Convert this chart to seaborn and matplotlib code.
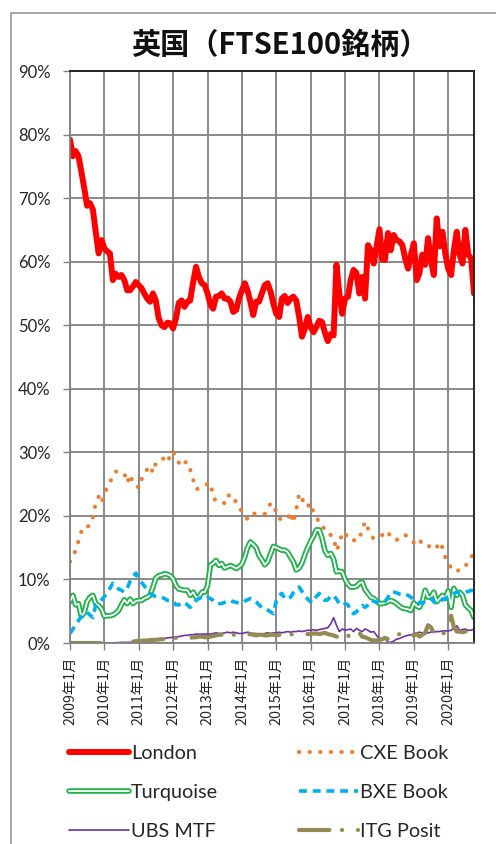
import numpy as np
import pandas as pd
import matplotlib
matplotlib.use("Agg")
import matplotlib.pyplot as plt
import seaborn as sns
from matplotlib.lines import Line2D
import matplotlib.patheffects as pe
from matplotlib.patches import Rectangle

# ---------------- data (monthly, Jan 2009 - Oct 2020, % share) ----------------
START = "2009-01-01"
TITLE = "英国（FTSE100銘柄）"
SERIES_NAMES = ["London", "CXE Book", "Turquoise", "BXE Book", "UBS MTF", "ITG Posit"]

LONDON = [
    79.2, 76.6, 77.4, 76.6, 74.2, 71.6, 68.8, 69.2, 68.2, 64.7, 61.3, 63.4,
    62.1, 61.6, 61.3, 57.1, 58.1, 57.6, 57.9, 57.1, 55.5, 55.5, 56.1, 56.8,
    56.3, 55.8, 55.0, 54.2, 53.7, 55.0, 53.9, 51.1, 50.0, 49.7, 50.4, 50.3,
    49.5, 51.1, 53.5, 53.9, 52.9, 53.7, 53.9, 56.8, 59.2, 57.6, 56.6, 56.3,
    55.0, 53.2, 52.6, 54.5, 54.6, 55.0, 54.2, 54.2, 53.7, 52.1, 52.4, 54.2,
    55.5, 56.6, 55.5, 53.7, 51.6, 53.7, 53.7, 55.0, 56.3, 56.6, 55.3, 53.4,
    51.8, 51.3, 54.2, 54.6, 53.5, 54.2, 54.5, 53.9, 51.3, 48.2, 49.5, 51.3,
    49.7, 48.9, 49.7, 50.7, 50.5, 48.8, 47.5, 48.6, 48.4, 59.5, 55.0, 51.8,
    54.2, 54.5, 57.1, 58.7, 58.2, 55.0, 57.6, 54.2, 62.6, 61.8, 59.7, 62.4,
    65.1, 60.3, 60.3, 64.5, 61.8, 64.2, 63.4, 63.2, 62.6, 60.5, 58.9, 61.1,
    62.9, 57.1, 58.2, 61.1, 59.5, 63.7, 60.3, 57.9, 66.8, 62.4, 64.7, 61.3,
    58.9, 57.9, 61.8, 64.7, 61.1, 59.7, 65.0, 61.1, 60.5, 55.0,
]
CXE = [
    12.8, 13.8, 14.5, 16.0, 17.5, 18.4, 18.3, 18.5, 19.8, 22.0, 23.0, 22.0,
    23.5, 24.5, 25.3, 26.2, 27.0, 26.9, 26.8, 26.7, 25.2, 26.5, 25.2, 25.0,
    24.4, 25.8, 26.8, 27.3, 27.9, 26.8, 28.3, 28.8, 29.0, 29.0, 28.4, 29.5,
    30.2, 29.0, 28.4, 27.8, 28.4, 28.5, 27.3, 25.7, 24.2, 24.3, 24.5, 24.8,
    25.0, 25.2, 23.0, 22.3, 22.3, 22.2, 22.0, 23.3, 23.1, 23.2, 22.0, 21.6,
    20.6, 20.0, 19.5, 20.3, 20.4, 20.3, 20.3, 20.2, 20.3, 21.0, 22.0, 21.0,
    20.9, 19.6, 19.4, 19.4, 19.5, 20.6, 18.9, 21.0, 23.5, 22.8, 21.5, 21.5,
    22.0, 20.5, 19.8, 19.0, 18.8, 17.5, 17.2, 17.0, 16.6, 14.5, 15.6, 17.3,
    17.4, 16.3, 16.2, 16.2, 16.0, 16.5, 17.8, 19.1, 18.0, 17.0, 16.4, 16.6,
    16.7, 17.0, 17.6, 17.5, 16.6, 16.3, 16.2, 16.5, 17.0, 17.0, 16.7, 16.2,
    15.8, 16.3, 16.4, 15.4, 15.3, 15.3, 15.1, 14.7, 15.0, 15.9, 15.0, 13.5,
    12.5, 11.8, 11.5, 11.2, 11.6, 12.0, 12.0, 13.0, 13.6, 13.8,
]
TURQUOISE = [
    6.5, 7.5, 6.0, 6.2, 4.2, 4.8, 6.5, 7.2, 7.5, 6.2, 5.9, 5.4,
    4.2, 4.3, 4.3, 4.4, 4.7, 5.1, 6.0, 6.8, 6.2, 6.9, 6.2, 6.6,
    6.7, 6.7, 7.0, 7.2, 7.5, 8.8, 10.2, 10.6, 10.7, 10.9, 10.8, 10.6,
    10.1, 9.0, 8.5, 8.4, 8.3, 8.3, 7.5, 8.0, 7.2, 7.2, 8.0, 8.0,
    9.0, 12.3, 12.5, 13.0, 12.2, 12.5, 11.8, 12.0, 12.2, 12.0, 11.7, 12.0,
    12.4, 13.6, 15.0, 15.9, 15.5, 15.0, 13.8, 13.1, 12.3, 12.8, 14.0, 15.2,
    15.0, 14.8, 14.6, 14.6, 14.3, 13.5, 12.8, 11.5, 11.8, 12.6, 13.9, 15.0,
    16.0, 16.8, 17.8, 17.8, 16.5, 14.5, 13.8, 14.1, 13.2, 11.2, 11.3, 11.2,
    10.0, 9.2, 8.8, 8.8, 8.9, 9.4, 9.6, 8.4, 7.8, 7.2, 7.0, 6.6,
    6.2, 6.2, 6.3, 6.5, 6.7, 6.5, 6.2, 5.8, 5.5, 5.4, 5.3, 5.1,
    6.3, 5.8, 5.6, 6.5, 8.3, 7.2, 7.2, 8.0, 6.5, 7.0, 7.5, 7.0,
    8.2, 5.6, 8.6, 7.5, 8.0, 7.5, 6.0, 5.5, 5.1, 4.0,
]
BXE = [
    1.5, 2.2, 2.8, 3.5, 4.2, 4.5, 4.8, 4.4, 4.0, 6.0, 6.3, 6.8,
    7.3, 7.9, 8.6, 9.4, 9.0, 8.5, 8.3, 8.0, 8.6, 9.7, 10.4, 11.0,
    10.0, 9.5, 9.0, 8.3, 7.8, 7.5, 7.3, 7.2, 7.2, 7.0, 6.7, 6.7,
    6.6, 6.0, 6.0, 6.3, 6.4, 6.0, 5.6, 6.0, 6.7, 7.0, 7.2, 7.0,
    7.2, 7.0, 6.7, 6.2, 6.2, 6.2, 6.4, 6.6, 6.7, 6.5, 6.4, 6.3,
    6.3, 6.6, 6.8, 7.0, 6.9, 6.5, 6.0, 5.6, 5.5, 5.2, 4.9, 4.6,
    6.6, 7.5, 7.8, 7.0, 6.9, 7.2, 7.9, 8.4, 8.8, 8.1, 7.4, 6.9,
    6.5, 6.4, 7.3, 7.8, 7.2, 6.7, 6.8, 7.4, 7.5, 6.9, 6.2, 6.5,
    6.2, 6.0, 5.0, 4.6, 4.9, 5.5, 5.9, 5.6, 6.0, 6.7, 6.6, 6.4,
    6.6, 6.6, 6.5, 7.2, 8.0, 8.0, 7.9, 7.7, 7.6, 7.7, 7.5, 7.2,
    6.9, 6.6, 6.3, 6.3, 6.5, 6.8, 7.0, 6.5, 6.2, 6.5, 6.8, 7.0,
    7.2, 7.5, 7.8, 8.0, 7.8, 7.8, 8.0, 8.1, 8.3, 8.1,
]
UBS = [
    None, None, None, None, None, None, None, None, None, None, None, None,
    0.0, 0.0, 0.0, 0.0, 0.05, 0.05, 0.1, 0.1, 0.1, 0.1, 0.1, 0.15,
    0.2, 0.2, 0.25, 0.3, 0.3, 0.4, 0.45, 0.55, 0.6, 0.7, 0.8, 0.85,
    0.9, 1.0, 1.0, 1.1, 1.2, 1.2, 1.3, 1.3, 1.4, 1.4, 1.4, 1.4,
    1.4, 1.4, 1.5, 1.6, 1.5, 1.5, 1.6, 1.7, 1.6, 1.7, 1.6, 1.5,
    1.5, 1.6, 1.7, 1.6, 1.5, 1.5, 1.4, 1.4, 1.5, 1.6, 1.5, 1.6,
    1.6, 1.7, 1.6, 1.7, 1.8, 1.7, 1.8, 1.8, 1.9, 1.8, 1.9, 2.0,
    2.0, 2.1, 2.0, 2.1, 2.2, 2.3, 2.4, 3.0, 4.0, 2.8, 1.8, 2.2,
    2.0, 2.1, 2.2, 1.8, 2.3, 2.0, 1.8, 2.2, 2.0, 1.7, 1.8, 1.2,
    0.6, 0.5, 0.8, 0.1, 0.1, 0.3, 0.6, 0.7, 0.9, 1.1, 1.2, 1.3,
    1.4, 1.6, 1.7, 1.6, 1.5, 1.6, 1.7, 1.7, 1.8, 1.8, 1.9, 1.9,
    1.9, 2.0, 2.4, 2.7, 2.0, 2.1, 2.2, 2.0, 2.0, 2.2,
]
ITG = [
    0.0, 0.0, 0.0, 0.0, 0.0, 0.0, 0.0, 0.0, 0.0, 0.0, 0.0, 0.0,
    None, None, None, None, None, None, None, None, None, None, 0.2, 0.3,
    0.3, 0.35, 0.4, 0.4, 0.45, 0.5, 0.5, 0.55, 0.6, 0.6, 0.65, 0.7,
    0.7, 0.8, 0.8, 0.9, 0.9, 0.8, 0.8, 0.9, 0.9, 1.0, 1.0, 0.9,
    0.9, 1.0, 1.1, 1.2, 1.3, 1.3, 1.2, 1.3, 1.4, 1.3, 1.3, 1.2,
    1.3, 1.2, 1.3, 1.4, 1.3, 1.2, 1.3, 1.3, 1.2, 1.2, 1.3, 1.3,
    1.2, 1.3, 1.2, 1.3, 1.4, 1.4, 1.3, 1.4, 1.4, 1.5, 1.4, 1.4,
    1.4, 1.5, 1.5, 1.4, 1.5, 1.6, 1.4, 1.3, 1.2, 1.0, 0.9, 0.8,
    1.0, 1.2, 0.8, 0.6, 1.2, 1.6, 1.0, 0.9, 0.7, 0.5, 0.4, 0.4,
    0.5, 0.6, 0.8, 0.6, 0.8, 0.9, 1.2, 1.4, 1.0, 0.8, 0.9, 1.0,
    1.2, 1.4, 1.0, 1.3, 1.6, 2.8, 2.5, 1.5, 1.3, 1.4, 1.5, 1.6,
    2.2, 4.3, 2.5, 1.8, 1.8, 1.7, 1.8, 1.9, 2.0, 2.0,
]
Y_TICKS = [0, 10, 20, 30, 40, 50, 60, 70, 80, 90]
X_TICK_YEARS = [2009, 2010, 2011, 2012, 2013, 2014, 2015, 2016, 2017, 2018, 2019, 2020]
X_TICK_LABELS = [f"{y}年1月" for y in X_TICK_YEARS]

COLORS = {
    "London": "#FF0000", "CXE Book": "#ED7D31", "Turquoise": "#22B14C",
    "BXE Book": "#00B0F0", "UBS MTF": "#7030A0", "ITG Posit": "#948A54",
}
CXE_LS = (0, (0.05, 2.5))
BXE_LS = (0, (2.2, 1.6))
ITG_LS = (0, (7.3, 3.0, 0.05, 3.8))

# ---------------- style ----------------
sns.set_theme(style="ticks")
plt.rcParams["font.family"] = ["Lato", "Noto Sans CJK JP", "DejaVu Sans"]
CJK = ["Noto Sans CJK JP", "DejaVu Sans"]

dates = pd.date_range(START, periods=len(LONDON), freq="MS")
df = pd.DataFrame({
    "date": dates,
    "London": LONDON, "CXE Book": CXE, "Turquoise": TURQUOISE,
    "BXE Book": BXE,
    "UBS MTF": pd.Series(UBS, dtype="float"),
    "ITG Posit": pd.Series(ITG, dtype="float"),
})

W, H = 496, 844
fig = plt.figure(figsize=(W / 100, H / 100), dpi=100)
fig.patch.set_facecolor("white")
ax = fig.add_axes([70 / W, 1 - 643 / H, (474 - 70) / W, (643 - 71) / H])

# outer chart frame
fig.patches.append(Rectangle((11 / W, -0.1), 1.2, 1 - 13 / H + 0.1,
                             transform=fig.transFigure, fill=False,
                             edgecolor="#A6A6A6", lw=1.4, zorder=0))

# ---------------- series ----------------
sns.lineplot(data=df, x="date", y="London", ax=ax, color=COLORS["London"],
             linewidth=4.3, solid_joinstyle="round", solid_capstyle="round")
sns.lineplot(data=df, x="date", y="CXE Book", ax=ax, color=COLORS["CXE Book"],
             linewidth=3.0, linestyle=CXE_LS, dash_capstyle="round")
sns.lineplot(data=df, x="date", y="Turquoise", ax=ax, color=COLORS["Turquoise"],
             linewidth=4.0, solid_joinstyle="round")
sns.lineplot(data=df, x="date", y="Turquoise", ax=ax, color="white",
             linewidth=1.3, solid_joinstyle="round")
sns.lineplot(data=df, x="date", y="BXE Book", ax=ax, color=COLORS["BXE Book"],
             linewidth=2.6, linestyle=BXE_LS)
ubs = df[["date", "UBS MTF"]].dropna()
sns.lineplot(data=ubs, x="date", y="UBS MTF", ax=ax, color=COLORS["UBS MTF"],
             linewidth=1.2)
itg = df[["date", "ITG Posit"]].copy()
itg["seg"] = itg["ITG Posit"].isna().cumsum()
itg = itg.dropna()
sns.lineplot(data=itg, x="date", y="ITG Posit", units="seg", estimator=None,
             ax=ax, color=COLORS["ITG Posit"], linewidth=3.0, linestyle=ITG_LS,
             dash_capstyle="round")

# ---------------- axes ----------------
ax.set_xlim(dates[0], dates[-1])
ax.set_ylim(0, 90)
ax.set_yticks(Y_TICKS)
ax.set_yticklabels([f"{v}%" for v in Y_TICKS], fontsize=12, color="#262626")
xt = [pd.Timestamp(f"{y}-01-01") for y in X_TICK_YEARS]
ax.set_xticks(xt)
ax.set_xticklabels(X_TICK_LABELS, rotation=90, fontsize=10.3, family=CJK,
                   color="#262626")
ax.set_xlabel("")
ax.set_ylabel("")
ax.grid(True, color="#808080", linewidth=1.3)
ax.set_axisbelow(True)
ax.tick_params(axis="y", length=5, width=1.0, color="#808080", pad=9)
ax.tick_params(axis="x", length=5, width=1.0, color="#808080", pad=5)
for side in ["top", "right"]:
    ax.spines[side].set_visible(True)
    ax.spines[side].set_color("#262626")
    ax.spines[side].set_linewidth(1.4)
for side in ["left", "bottom"]:
    ax.spines[side].set_color("#808080")
    ax.spines[side].set_linewidth(1.3)

fig.text(280 / W, 1 - 45 / H, TITLE, ha="center", va="center", fontsize=21,
         fontweight="bold", family=CJK, color="#111111")

# ---------------- legend ----------------
h_london = Line2D([], [], color=COLORS["London"], lw=4.3, solid_capstyle="round")
h_cxe = Line2D([], [], color=COLORS["CXE Book"], lw=3.0, linestyle=CXE_LS,
               dash_capstyle="round")
h_turq = Line2D([], [], color="white", lw=1.3,
                path_effects=[pe.Stroke(linewidth=4.0, foreground=COLORS["Turquoise"]),
                              pe.Normal()])
h_bxe = Line2D([], [], color=COLORS["BXE Book"], lw=2.6, linestyle=BXE_LS)
h_ubs = Line2D([], [], color=COLORS["UBS MTF"], lw=1.2)
h_itg = Line2D([], [], color=COLORS["ITG Posit"], lw=3.0, linestyle=ITG_LS,
               dash_capstyle="round")
handles = [h_london, h_turq, h_ubs, h_cxe, h_bxe, h_itg]
labels = ["London", "Turquoise", "UBS MTF", "CXE Book", "BXE Book", "ITG Posit"]
fig.legend(handles, labels, loc="upper left", bbox_to_anchor=(69 / W, 1 - 745 / H),
           ncol=2, frameon=False, fontsize=14.3, handlelength=3.0,
           handletextpad=0.12, columnspacing=4.05, labelspacing=1.1,
           borderpad=0, borderaxespad=0)

fig.savefig("out.png", dpi=100)
